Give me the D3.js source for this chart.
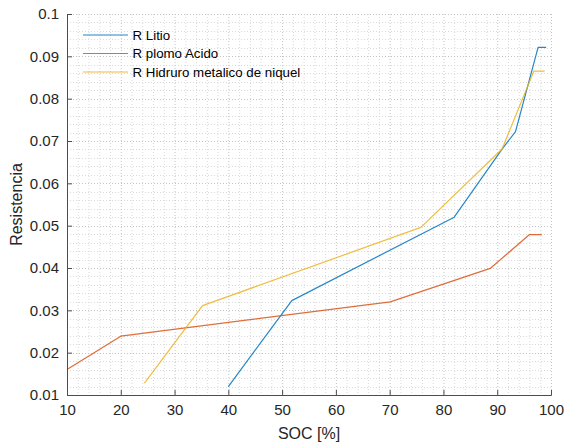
<!DOCTYPE html>
<html>
<head>
<meta charset="utf-8">
<script src="https://cdn.jsdelivr.net/npm/d3@7"></script>
<style>
  html, body { margin: 0; padding: 0; background: #fff; }
  svg { display: block; font-family: "Liberation Sans", Arial, sans-serif; }
</style>
</head>
<body>
<svg id="chart" width="565" height="443"></svg>
<script>
// Series: SOC [%] vs internal resistance
const socLitio = [40, 51.8, 82, 90.9, 93.4, 97.6, 99.1];
const resLitio = [0.012, 0.0323, 0.052, 0.0681, 0.0722, 0.0921, 0.0921];

const socPlomo = [10, 20, 70.1, 88.7, 96, 98.3];
const resPlomo = [0.016, 0.0239, 0.032, 0.0399, 0.0479, 0.0479];

const socNiMH = [24.4, 35.2, 75.8, 90.9, 96.8, 98.8];
const resNiMH = [0.0128, 0.0311, 0.0496, 0.0681, 0.0865, 0.0865];

const seriesNames = ["R Litio", "R plomo Acido", "R Hidruro metalico de niquel"];
const seriesColors = ["#0072BD", "#D95319", "#EDB120"];

const xTicks = [10, 20, 30, 40, 50, 60, 70, 80, 90, 100];
const yTicks = [0.01, 0.02, 0.03, 0.04, 0.05, 0.06, 0.07, 0.08, 0.09, 0.1];

const margin = { left: 67, top: 14, right: 14, bottom: 48 };
const W = 565, H = 443;
const iw = W - margin.left - margin.right;   // 484
const ih = H - margin.top - margin.bottom;   // 381

const svg = d3.select("#chart");
const g = svg.append("g").attr("transform", `translate(${margin.left},${margin.top})`);

const x = d3.scaleLinear().domain([10, 100]).range([0, iw]);
const y = d3.scaleLinear().domain([0.01, 0.1]).range([ih, 0]);

// Minor grid (every 2 % SOC, every 0.002)
const xMinor = d3.range(10, 100.001, 2).filter(v => v % 10 !== 0);
const yMinor = d3.range(0, 46).map(i => +(0.01 + i * 0.002).toFixed(4)).filter(v => v <= 0.1 && Math.round(v * 1000) % 10 !== 0);

const grid = g.append("g");
grid.selectAll(".xm").data(xMinor).join("line")
  .attr("x1", d => x(d) + 0.5).attr("x2", d => x(d) + 0.5)
  .attr("y1", 0).attr("y2", ih)
  .attr("stroke", "#dadada").attr("stroke-width", 1).attr("stroke-dasharray", "1,2");
grid.selectAll(".ym").data(yMinor).join("line")
  .attr("y1", d => Math.round(y(d)) + 0.5).attr("y2", d => Math.round(y(d)) + 0.5)
  .attr("x1", 0).attr("x2", iw)
  .attr("stroke", "#dadada").attr("stroke-width", 1).attr("stroke-dasharray", "1,2");
// Major grid
grid.selectAll(".xM").data(xTicks.slice(1)).join("line")
  .attr("x1", d => x(d) + 0.5).attr("x2", d => x(d) + 0.5)
  .attr("y1", 0).attr("y2", ih)
  .attr("stroke", "#c4c4c4").attr("stroke-width", 1).attr("stroke-dasharray", "1,2");
grid.selectAll(".yM").data(yTicks.slice(1)).join("line")
  .attr("y1", d => Math.round(y(d)) + 0.5).attr("y2", d => Math.round(y(d)) + 0.5)
  .attr("x1", 0).attr("x2", iw)
  .attr("stroke", "#c4c4c4").attr("stroke-width", 1).attr("stroke-dasharray", "1,2");

// Data lines
const line = d3.line().x(d => x(d[0])).y(d => y(d[1]));
const data = [
  d3.zip(socLitio, resLitio),
  d3.zip(socPlomo, resPlomo),
  d3.zip(socNiMH, resNiMH)
];
g.selectAll(".series").data(data).join("path")
  .attr("d", line)
  .attr("fill", "none")
  .attr("stroke", (d, i) => seriesColors[i])
  .attr("stroke-width", 1.2)
  .attr("stroke-opacity", 0.85)
  .attr("stroke-linejoin", "round");

// Axes (left and bottom only, ticks inward)
const xAxis = d3.axisBottom(x).tickValues(xTicks).tickSize(-5).tickPadding(9).tickFormat(d3.format("d"));
const yAxis = d3.axisLeft(y).tickValues(yTicks).tickSize(-5).tickPadding(8).tickFormat(d => d3.format("~g")(d));

const gx = g.append("g").attr("transform", `translate(0,${ih})`).call(xAxis);
const gy = g.append("g").call(yAxis);
[gx, gy].forEach(a => {
  a.select(".domain").attr("stroke", "#4d4d4d").attr("stroke-width", 1);
  a.selectAll(".tick line").attr("stroke", "#4d4d4d");
  a.selectAll(".tick text").attr("fill", "#262626")
    .style("font-family", "'Liberation Sans', Arial, sans-serif").style("font-size", "15px");
});

// Axis titles
svg.append("text")
  .attr("x", margin.left + iw / 2).attr("y", 439)
  .attr("text-anchor", "middle").attr("fill", "#262626")
  .style("font-size", "16px").text("SOC [%]");
svg.append("text")
  .attr("transform", `translate(22,${margin.top + ih / 2}) rotate(-90)`)
  .attr("text-anchor", "middle").attr("fill", "#262626")
  .style("font-size", "16px").text("Resistencia");

// Legend
const leg = svg.append("g");
const legY = [35, 53.5, 72];
seriesNames.forEach((name, i) => {
  leg.append("line")
    .attr("x1", 83).attr("x2", 128).attr("y1", legY[i]).attr("y2", legY[i])
    .attr("stroke", seriesColors[i]).attr("stroke-width", 1.2).attr("stroke-opacity", 0.85);
  leg.append("text")
    .attr("x", 132.5).attr("y", legY[i] + 4.7)
    .attr("fill", "#000").style("font-size", "13.3px").text(name);
});
</script>
</body>
</html>
